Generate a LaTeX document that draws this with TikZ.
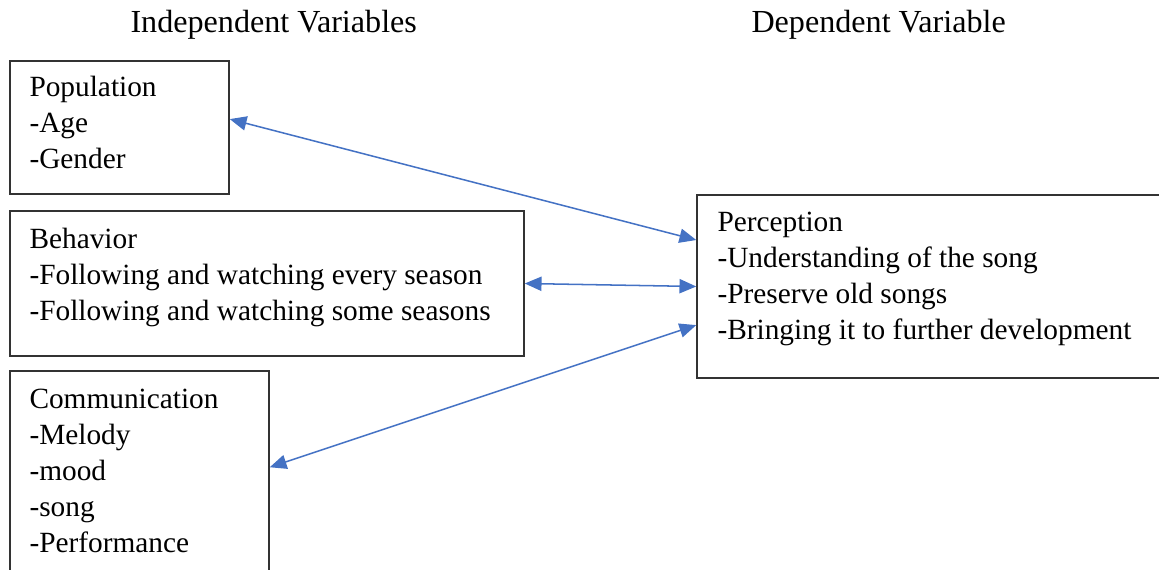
\documentclass[tikz,border=0pt]{standalone}
\usepackage{fontspec}
\setmainfont{Liberation Serif}
\usepackage{tikz}
\usetikzlibrary{arrows.meta,fit}
\definecolor{linkblue}{RGB}{68,114,196}
\tikzset{
    varbox/.style={draw=black!80, line width=0.6pt, inner sep=0pt},
    headtext/.style={anchor=base west, inner sep=0pt, font=\fontsize{12.65}{14.2}\selectfont},
    vartext/.style={anchor=base west, align=left, inner sep=0pt, font=\fontsize{11.55}{14.2}\selectfont},
    link/.style={{Triangle[length=6.6pt,width=5.6pt]}-{Triangle[length=6.6pt,width=5.6pt]}, draw=linkblue, line width=0.6pt}
}

\begin{document}
\begin{tikzpicture}[x=0.3937pt,y=-0.3937pt]
            \useasboundingbox (0,0) rectangle (1159,570);
            \clip (0,0) rectangle (1159,570);

            \node[headtext] (indep) at (130,33) {Independent Variables};
            \node[headtext] (dep) at (751,33) {Dependent Variable};

            \node[varbox, fit={(10,61) (229,194)}] (pop) {};
            \node[varbox, fit={(10,211) (524,356)}] (behav) {};
            \node[varbox, fit={(10,371) (269,620)}] (comm) {};
            \node[varbox, fit={(697,195) (1180,378)}] (perc) {};

            % base anchor sits on the last line
            \node[vartext] (poptext) at (29,169) {Population\\-Age\\-Gender};
            \node[vartext] (behavtext) at (29,321) {Behavior\\-Following and watching every season\\-Following and watching some seasons};
            \node[vartext] (commtext) at (29,553) {Communication\\-Melody\\-mood\\-song\\-Performance};
            \node[vartext] (perctext) at (717,340) {Perception\\-Understanding of the song\\-Preserve old songs\\-Bringing it to further development};

            \draw[link] ([yshift=3.3pt]pop.east) -- ([yshift=18.3pt]perc.west);
            \draw[link] (behav.east) -- (perc.west);
            \draw[link] ([yshift=-38.2pt]comm.north east) -- ([yshift=-15.2pt]perc.west);
\end{tikzpicture}
\end{document}
